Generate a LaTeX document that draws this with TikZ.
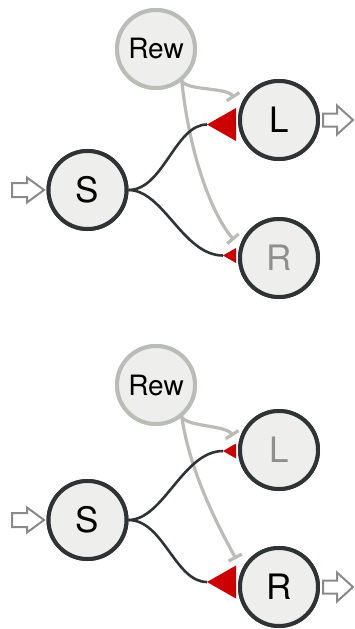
\documentclass[tikz,border=0pt]{standalone}
\usepackage{fontspec}
\setmainfont{TeX Gyre Heros}
\usetikzlibrary{arrows.meta,calc}
\definecolor{nodefill}{HTML}{EEEEEC}
\definecolor{darkline}{HTML}{2E3436}
\definecolor{rewline}{HTML}{BABDB6}
\definecolor{inhib}{HTML}{BBBCB5}
\definecolor{weight}{HTML}{CC0000}
\definecolor{greytext}{HTML}{8F8F8F}
\definecolor{ioline}{HTML}{8A8A8A}
\tikzset{
  unit/.style={circle, draw=darkline, line width=4pt, fill=nodefill, minimum size=78pt, inner sep=0pt, font=\fontsize{35}{35}\selectfont, text=black},
  rewunit/.style={unit, draw=rewline, font=\fontsize{28}{28}\selectfont},
  offtext/.style={text=greytext},
  syn/.style={draw=darkline, line width=2.6pt},
  inh/.style={draw=inhib, line width=3.2pt, -{Bar[width=15pt]}},
  wtri/.style={fill=weight},
  ioarrow/.style={draw=ioline, line width=2pt, fill=white, line join=miter}
}
\begin{document}
\begin{tikzpicture}[x=1pt,y=-1pt]
\useasboundingbox (0,0) rectangle (355,629);
% ---------- top panel ----------
\node[rewunit] (Rew1) at (156,49) {Rew};
\node[unit] (L1) at (279,120) {L};
\node[unit] (S1) at (87.5,190) {S};
\node[unit, offtext] (R1) at (279,258) {R};
\coordinate (tL1) at ([shift={(-72,4.5)}]L1.center);
\coordinate (tR1) at ([shift={(-56,-2.5)}]R1.center);
\coordinate (bL1) at ([shift={(-45,-22)}]L1.center);
\coordinate (bR1) at ([shift={(-45,-18)}]R1.center);
% inhibitory modulation
\draw[inh] (Rew1.-51) .. controls +(5,10) and +(-7,-11) .. (bL1);
\draw[inh] (Rew1.-51) .. controls +(7,69) and +(-24,-28) .. (bR1);
% synapses
\draw[syn] (S1.east) .. controls +(35,0) and +(-32,0) .. (tL1);
\draw[syn] (S1.east) .. controls +(35,0) and +(-40,0) .. (tR1);
\fill[wtri] (tL1) -- ++(29,-16.5) -- ++(0,33) -- cycle;
\fill[wtri] (tR1) -- ++(13,-7.5) -- ++(0,15) -- cycle;
% in / out arrows
\draw[ioarrow] ([xshift=-2.5pt]S1.west) -- ++(-17,-12.5) -- ++(0,5.5) -- ++(-15,0) -- ++(0,14) -- ++(15,0) -- ++(0,5.5) -- cycle;
\draw[ioarrow] ([xshift=3pt]L1.east) -- ++(0,-6.5) -- ++(14,0) -- ++(0,-8) -- ++(16,14.5) -- ++(-16,14.5) -- ++(0,-8) -- ++(-14,0) -- cycle;
\node[rewunit] at (Rew1) {Rew};
\node[unit] at (L1) {L};
\node[unit] at (S1) {S};
\node[unit, offtext] at (R1) {R};
% ---------- bottom panel ----------
\node[rewunit] (Rew2) at (156,385) {Rew};
\node[unit, offtext] (L2) at (279,450) {L};
\node[unit] (S2) at (87.5,520) {S};
\node[unit] (R2) at (279,587) {R};
\coordinate (tL2) at ([shift={(-56,1)}]L2.center);
\coordinate (tR2) at ([shift={(-72,-5)}]R2.center);
\coordinate (bL2) at ([shift={(-46,-14)}]L2.center);
\coordinate (bR2) at ([shift={(-43,-28)}]R2.center);
\draw[inh] (Rew2.-51) .. controls +(5,10) and +(-7,-11) .. (bL2);
\draw[inh] (Rew2.-51) .. controls +(9,62) and +(-10,-19) .. (bR2);
\draw[syn] (S2.east) .. controls +(35,0) and +(-40,0) .. (tL2);
\draw[syn] (S2.east) .. controls +(35,0) and +(-32,0) .. (tR2);
\fill[wtri] (tL2) -- ++(13,-7.5) -- ++(0,15) -- cycle;
\fill[wtri] (tR2) -- ++(29,-16.5) -- ++(0,33) -- cycle;
\draw[ioarrow] ([xshift=-2.5pt]S2.west) -- ++(-17,-12.5) -- ++(0,5.5) -- ++(-15,0) -- ++(0,14) -- ++(15,0) -- ++(0,5.5) -- cycle;
\draw[ioarrow] ([xshift=3pt]R2.east) -- ++(0,-6.5) -- ++(14,0) -- ++(0,-8) -- ++(16,14.5) -- ++(-16,14.5) -- ++(0,-8) -- ++(-14,0) -- cycle;
\node[rewunit] at (Rew2) {Rew};
\node[unit, offtext] at (L2) {L};
\node[unit] at (S2) {S};
\node[unit] at (R2) {R};
\end{tikzpicture}
\end{document}
